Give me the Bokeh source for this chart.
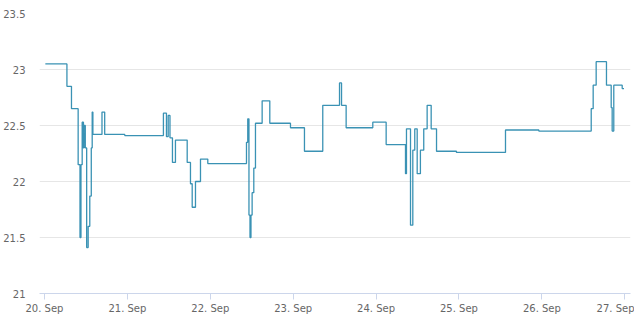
import pandas as pd
from bokeh.plotting import figure
from bokeh.models import DatetimeTickFormatter, FixedTicker, Range1d
from bokeh.embed import file_html
from bokeh.resources import INLINE

times = [
    "2023-09-20 00:15", "2023-09-20 06:30", "2023-09-20 07:49", "2023-09-20 09:45",
    "2023-09-20 10:17", "2023-09-20 10:34", "2023-09-20 10:55", "2023-09-20 11:17",
    "2023-09-20 11:26", "2023-09-20 11:49", "2023-09-20 12:13", "2023-09-20 12:39",
    "2023-09-20 13:07", "2023-09-20 13:33", "2023-09-20 13:49", "2023-09-20 14:01",
    "2023-09-20 16:39", "2023-09-20 17:26", "2023-09-20 23:15",
    "2023-09-21 10:26", "2023-09-21 11:19", "2023-09-21 11:49", "2023-09-21 12:20",
    "2023-09-21 13:03", "2023-09-21 13:55", "2023-09-21 17:19", "2023-09-21 18:16",
    "2023-09-21 18:46", "2023-09-21 19:43", "2023-09-21 21:10", "2023-09-21 23:17",
    "2023-09-22 10:29", "2023-09-22 10:51", "2023-09-22 11:12", "2023-09-22 11:30",
    "2023-09-22 11:47", "2023-09-22 12:07", "2023-09-22 12:36", "2023-09-22 13:05",
    "2023-09-22 15:01", "2023-09-22 17:14", "2023-09-22 23:13",
    "2023-09-23 03:16", "2023-09-23 08:34", "2023-09-23 13:25", "2023-09-23 14:00",
    "2023-09-23 15:20", "2023-09-23 23:03",
    "2023-09-24 02:55", "2023-09-24 08:31", "2023-09-24 08:48", "2023-09-24 09:58",
    "2023-09-24 10:38", "2023-09-24 11:12", "2023-09-24 11:54", "2023-09-24 12:50",
    "2023-09-24 13:48", "2023-09-24 14:47", "2023-09-24 15:57", "2023-09-24 17:30",
    "2023-09-24 23:16",
    "2023-09-25 13:28", "2023-09-25 23:07",
    "2023-09-26 14:17", "2023-09-26 14:51", "2023-09-26 15:43", "2023-09-26 18:42",
    "2023-09-26 20:04", "2023-09-26 20:21", "2023-09-26 20:49", "2023-09-26 23:15",
    "2023-09-26 23:46",
]
temps = [
    23.05, 22.85, 22.65, 22.15,
    21.50, 22.15, 22.53, 22.30,
    22.50, 22.30, 21.41, 21.60,
    21.87, 22.30, 22.62, 22.42,
    22.62, 22.42, 22.41,
    22.61, 22.40, 22.59, 22.39,
    22.17, 22.37, 22.17, 21.98,
    21.77, 22.00, 22.20, 22.16,
    22.35, 22.56, 21.70, 21.50,
    21.70, 21.90, 22.12, 22.52,
    22.72, 22.52, 22.48,
    22.27, 22.68, 22.88, 22.68,
    22.48, 22.53,
    22.33, 22.07, 22.47, 21.61,
    22.28, 22.47, 22.07, 22.28,
    22.47, 22.68, 22.47, 22.27,
    22.26,
    22.46, 22.45,
    22.65, 22.86, 23.07, 22.86,
    22.66, 22.45, 22.86, 22.83,
    22.83,
]
tick_days = ["2023-09-20", "2023-09-21", "2023-09-22", "2023-09-23",
             "2023-09-24", "2023-09-25", "2023-09-26", "2023-09-27"]
y_ticks = [21, 21.5, 22, 22.5, 23, 23.5]

x = pd.to_datetime(times)
tick_ms = [pd.Timestamp(d).value / 1e6 for d in tick_days]
day_ms = 86400000.0

p = figure(width=634, height=322, x_axis_type="datetime",
           output_backend="svg", toolbar_location=None,
           min_border_left=10, min_border_right=4,
           min_border_top=13, min_border_bottom=29)
p.x_range = Range1d(tick_ms[0] - 0.06 * day_ms, tick_ms[0] + 7.069 * day_ms)
p.y_range = Range1d(21, 23.5)

p.step(x, temps, mode="after", line_color="#3a92b4", line_width=1.3)

p.outline_line_color = None
p.background_fill_color = "white"
p.border_fill_color = "white"

p.xgrid.grid_line_color = None
p.ygrid.grid_line_color = "#e6e6e6"
p.ygrid.grid_line_width = 1

p.yaxis.ticker = FixedTicker(ticks=y_ticks)
p.yaxis.axis_line_color = None
p.yaxis.major_tick_line_color = None
p.yaxis.minor_tick_line_color = None
p.yaxis.major_label_standoff = 8
p.yaxis.major_label_text_font = "DejaVu Sans"
p.yaxis.major_label_text_font_size = "10px"
p.yaxis.major_label_text_color = "#666666"
p.yaxis.major_label_overrides = {21: "21", 21.5: "21.5", 22: "22", 22.5: "22.5", 23: "23", 23.5: "23.5"}

p.xaxis.ticker = FixedTicker(ticks=tick_ms)
p.xaxis.formatter = DatetimeTickFormatter(days="%d. %b", months="%d. %b", hours="%d. %b")
p.xaxis.axis_line_color = "#ccd6eb"
p.xaxis.major_tick_line_color = "#ccd6eb"
p.xaxis.major_tick_in = 0
p.xaxis.major_tick_out = 6
p.xaxis.minor_tick_line_color = None
p.xaxis.major_label_standoff = 3
p.xaxis.major_label_text_font = "DejaVu Sans"
p.xaxis.major_label_text_font_size = "10px"
p.xaxis.major_label_text_color = "#666666"

open("out.html", "w").write(file_html(p, INLINE))
